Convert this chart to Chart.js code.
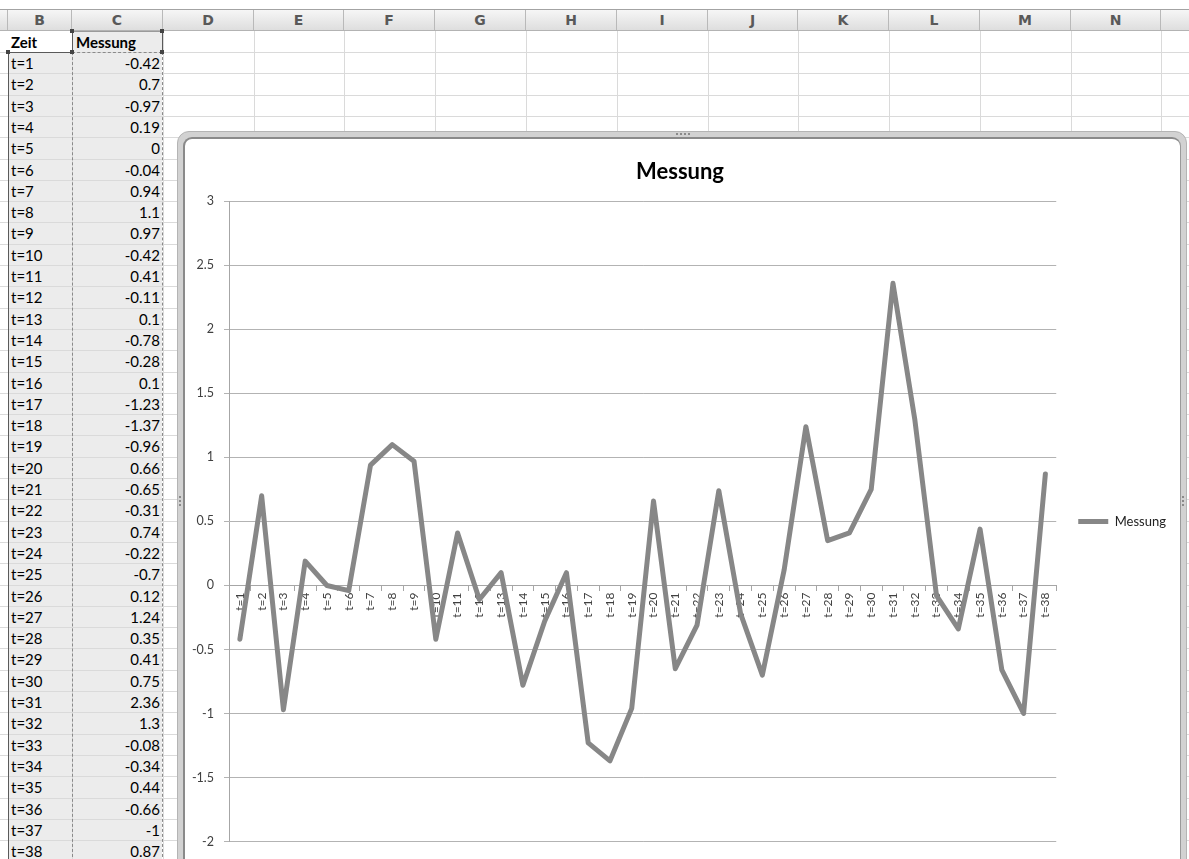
<!DOCTYPE html>
<html>
<head>
<meta charset="utf-8">
<title>Messung</title>
<script src="https://cdn.jsdelivr.net/npm/chart.js@4.4.1/dist/chart.umd.min.js"></script>
<style>
  html, body { margin: 0; padding: 0; background: #fff; }
  body { width: 1189px; height: 859px; overflow: hidden; position: relative; font-family: Lato, "Open Sans", sans-serif; }
  #sheet { position: absolute; left: 0; top: 0; width: 1189px; height: 859px; overflow: hidden; }
  .ln { position: absolute; }
  .colhead { position: absolute; top: 10px; height: 20px; box-sizing: border-box; border-right: 1px solid #b9b9b9;
             font: bold 14px "DejaVu Sans", sans-serif; color: #595959; text-align: center; line-height: 21px; }
  .cell { position: absolute; box-sizing: border-box; height: 21px; font-size: 15px; line-height: 22px; color: #000; white-space: nowrap; }
  .handle { position: absolute; width: 4px; height: 4px; background: #444; }
  #frame { position: absolute; left: 177px; top: 131px; width: 1010px; height: 760px; box-sizing: border-box;
           border-radius: 12px; background: #d2d2d2; border: 1px solid #b4b4b4; }
  #plotbox { position: absolute; left: 183px; top: 137px; width: 998px; height: 750px; box-sizing: border-box;
             background: #fff; border-radius: 9px; border: 1px solid #9a9a9a; border-top: 2px solid #8a8a8a; border-left: 2px solid #8a8a8a; }
  .dot { position: absolute; width: 2px; height: 2px; background: #8a8a8a; }
  #chart { position: absolute; left: 184px; top: 139px; }
</style>
</head>
<body>
<div id="sheet"></div>
<div id="frame"></div>
<div id="plotbox"></div>
<canvas id="chart" width="996" height="720"></canvas>
<script>
// Measurement series: one value per time step
const categories = ['t=1','t=2','t=3','t=4','t=5','t=6','t=7','t=8','t=9','t=10',
                    't=11','t=12','t=13','t=14','t=15','t=16','t=17','t=18','t=19','t=20',
                    't=21','t=22','t=23','t=24','t=25','t=26','t=27','t=28','t=29','t=30',
                    't=31','t=32','t=33','t=34','t=35','t=36','t=37','t=38'];
const messung = [-0.42, 0.7, -0.97, 0.19, 0, -0.04, 0.94, 1.1, 0.97, -0.42,
                 0.41, -0.11, 0.1, -0.78, -0.28, 0.1, -1.23, -1.37, -0.96, 0.66,
                 -0.65, -0.31, 0.74, -0.22, -0.7, 0.12, 1.24, 0.35, 0.41, 0.75,
                 2.36, 1.3, -0.08, -0.34, 0.44, -0.66, -1, 0.87];
const seriesName = 'Messung';
const headerLabels = ['Zeit', 'Messung'];
const columnLetters = ['B','C','D','E','F','G','H','I','J','K','L','M','N',''];
const yRange = { min: -2, max: 3, step: 0.5 };

// ---- worksheet grid ----
const colEdges = [8, 72, 163, 254, 344, 435, 526, 617, 708, 798, 889, 980, 1071, 1161, 1252];
const rowTop0 = 30.7, rowH = 21.3;
const sheet = document.getElementById('sheet');
function box(cls, st, text) {
  const d = document.createElement('div');
  d.className = cls;
  for (const k in st) d.style[k] = (typeof st[k] === 'number') ? st[k] + 'px' : st[k];
  if (text != null) d.textContent = text;
  sheet.appendChild(d);
  return d;
}
// column header strip
box('ln', { left: 0, top: 9, width: 1189, height: 1, background: '#a3a3a3' });
box('ln', { left: 0, top: 10, width: 1189, height: 20, background: 'linear-gradient(#f6f6f6,#dedede)' });
box('ln', { left: 0, top: 30, width: 1189, height: 1, background: '#b3b3b3' });
box('ln', { left: 7, top: 10, width: 1, height: 20, background: '#b9b9b9' });
columnLetters.forEach((c, i) => {
  box('colhead', { left: colEdges[i], width: colEdges[i + 1] - colEdges[i] }, c);
});
// selected range tint
box('ln', { left: 73, top: 31, width: 89, height: 21, background: '#ececec' });
box('ln', { left: 9, top: 52, width: 153, height: 820, background: '#ececec' });
// row lines
for (let k = 1; k <= 40; k++) {
  box('ln', { left: 0, top: Math.round(rowTop0 + k * rowH), width: 1189, height: 1, background: '#dadada' });
}
// column lines
colEdges.forEach((x, i) => {
  if (i > 0) box('ln', { left: x, top: 31, width: 1, height: 830, background: '#dadada' });
});
// header cells
box('cell', { left: 11, top: Math.round(rowTop0), width: 60, fontWeight: 'bold' }, headerLabels[0]);
box('cell', { left: 76, top: Math.round(rowTop0), width: 86, fontWeight: 'bold' }, headerLabels[1]);
// data cells
categories.forEach((c, i) => {
  const top = Math.round(rowTop0 + (i + 1) * rowH);
  box('cell', { left: 11, top: top, width: 60 }, c);
  box('cell', { left: 72, top: top, width: 88, textAlign: 'right' }, String(messung[i]));
});
// selection outline and copy marquee
box('ln', { left: 8, top: 52, width: 1, height: 810, background: '#5a5a5a' });
box('ln', { left: 8, top: 52, width: 64, height: 1, background: '#5a5a5a' });
box('ln', { left: 72, top: 31, width: 1, height: 21, background: '#5a5a5a' });
box('ln', { left: 162, top: 31, width: 1, height: 21, background: '#5a5a5a' });
box('ln', { left: 72, top: 31, width: 90, height: 1, background: '#9a9a9a' });
box('ln', { left: 72, top: 52, width: 90, height: 0, borderTop: '1px dashed #8a8a8a' });
box('ln', { left: 72, top: 52, width: 0, height: 810, borderLeft: '1px dashed #8a8a8a' });
box('ln', { left: 162, top: 52, width: 0, height: 810, borderLeft: '1px dashed #8a8a8a' });
[[70, 29], [160, 29], [6, 50], [70, 50], [160, 50]].forEach(p => box('handle', { left: p[0], top: p[1] }));

// small grip dots on the chart frame
[[676, 133], [680, 133], [684, 133], [688, 133], [179, 496], [179, 500], [179, 504], [1182, 496], [1182, 500], [1182, 504]]
  .forEach(p => { const d = document.createElement('div'); d.className = 'dot'; d.style.left = p[0] + 'px'; d.style.top = p[1] + 'px'; document.body.appendChild(d); });

// ---- chart ----
function draw() {
  new Chart(document.getElementById('chart'), {
    type: 'line',
    data: {
      labels: categories,
      datasets: [{
        label: seriesName,
        data: messung,
        borderColor: '#878787',
        backgroundColor: '#878787',
        borderWidth: 5,
        borderJoinStyle: 'round',
        borderCapStyle: 'round',
        pointRadius: 0,
        pointHoverRadius: 0,
        tension: 0,
        fill: false
      }]
    },
    options: {
      responsive: false,
      animation: false,
      devicePixelRatio: 1,
      layout: { padding: { left: 0, top: 0, right: 4, bottom: 13 } },
      plugins: {
        title: {
          display: true,
          text: seriesName,
          color: '#000',
          font: { family: 'Lato', size: 22, weight: 'bold', lineHeight: 1.2 },
          padding: { top: 20, bottom: 16 }
        },
        legend: {
          display: true,
          position: 'right',
          fullSize: false,
          labels: {
            usePointStyle: true,
            pointStyle: 'line',
            pointStyleWidth: 30,
            padding: 22,
            color: '#222',
            font: { family: 'Lato', size: 13 }
          }
        },
        tooltip: { enabled: false }
      },
      scales: {
        x: {
          type: 'category',
          offset: true,
          position: { y: 0 },
          grid: { display: true, drawOnChartArea: false, offset: true, drawTicks: true, tickLength: 5, color: '#a6a6a6' },
          border: { display: true, color: '#a6a6a6', width: 1 },
          ticks: { autoSkip: false, minRotation: 90, maxRotation: 90, padding: 2, color: '#404040', font: { family: 'Lato', size: 12 } }
        },
        y: {
          min: yRange.min,
          max: yRange.max,
          ticks: {
            stepSize: yRange.step,
            padding: 10,
            color: '#404040',
            font: { family: 'Lato', size: 12.5 },
            callback: (v) => String(Math.round(v * 100) / 100)
          },
          grid: { color: '#b3b3b3', drawTicks: true, tickLength: 5 },
          border: { color: '#a6a6a6' },
          afterFit(scale) { scale.width = 45; }
        }
      }
    }
  });
}
if (document.fonts && document.fonts.load) {
  Promise.all([document.fonts.load('bold 22px Lato'), document.fonts.load('12px Lato')]).then(draw, draw);
} else {
  draw();
}
</script>
</body>
</html>
